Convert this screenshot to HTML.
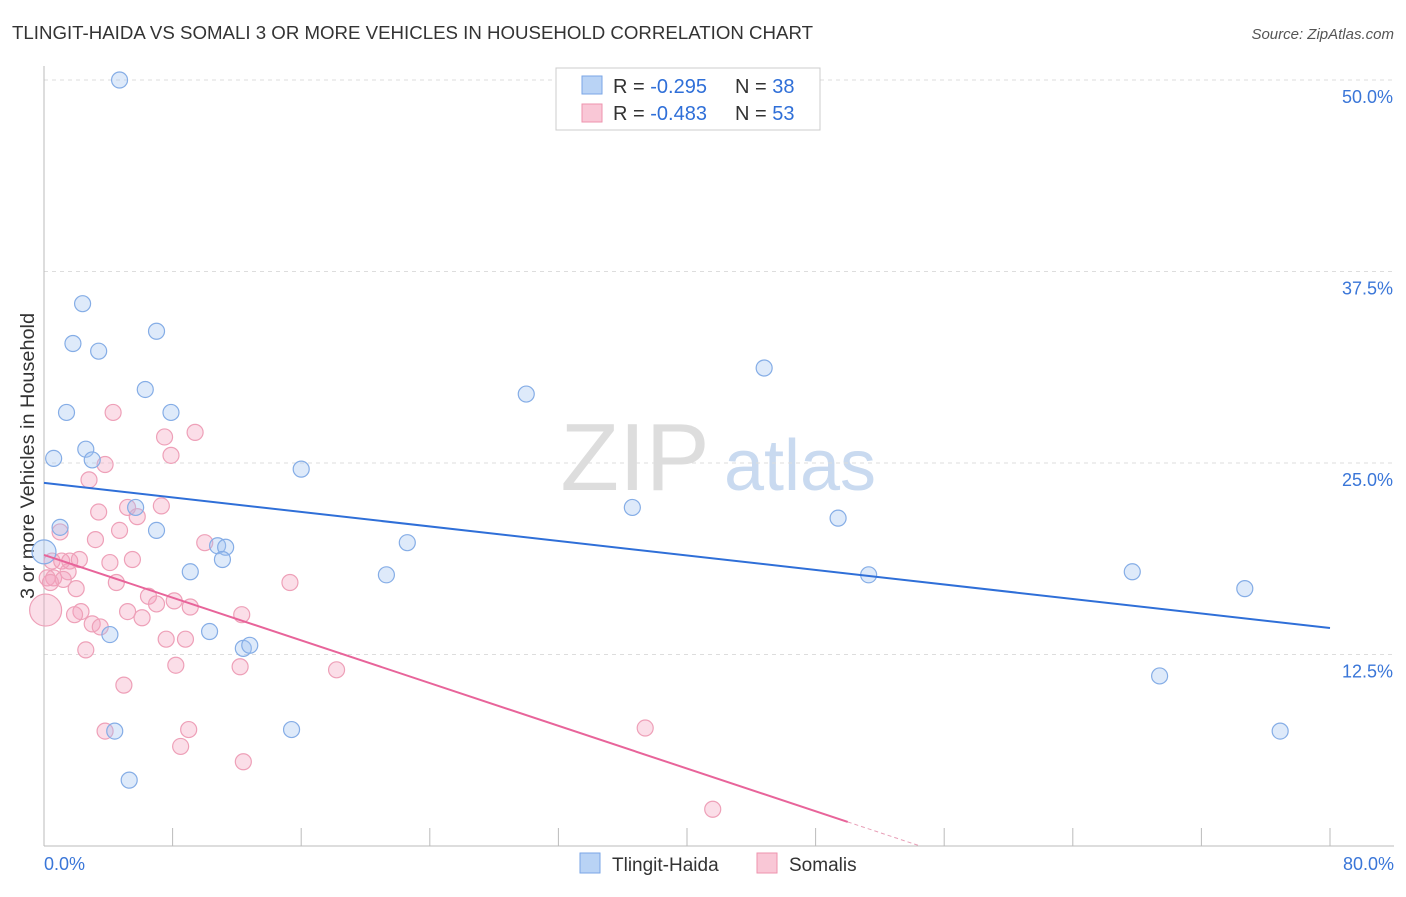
<!DOCTYPE html>
<html><head><meta charset="utf-8"><style>
body{margin:0;background:#fff;font-family:"Liberation Sans",sans-serif;}
svg text{font-family:"Liberation Sans",sans-serif;}
</style></head><body>
<svg id="c" width="1406" height="892">
<text x="12" y="39" font-size="18" fill="#333" textLength="801" lengthAdjust="spacingAndGlyphs">TLINGIT-HAIDA VS SOMALI 3 OR MORE VEHICLES IN HOUSEHOLD CORRELATION CHART</text>
<text x="1394" y="39" font-size="15" fill="#555" text-anchor="end" font-style="italic">Source: ZipAtlas.com</text>
<text x="34" y="456" font-size="19" fill="#333" text-anchor="middle" textLength="286" lengthAdjust="spacingAndGlyphs" transform="rotate(-90 34 456)">3 or more Vehicles in Household</text>
<g><text x="635" y="490" font-size="96" fill="#ddd" text-anchor="middle" font-family="Liberation Serif">ZIP</text><text x="800" y="490" font-size="72" fill="#c9daf0" text-anchor="middle">atlas</text></g>
<g id="grid"></g><g id="axes"></g><g id="pts"></g><g id="lines"></g>
<g>
<rect x="556" y="68" width="264" height="62" fill="#fff" stroke="#ccc"/>
<rect x="582" y="76" width="20" height="18" fill="#b9d3f5" stroke="#7aa6e6"/>
<rect x="582" y="104" width="20" height="18" fill="#f9c7d6" stroke="#ee93ae"/>
<text x="613" y="93" font-size="20" fill="#333">R = <tspan fill="#2f6fd8">-0.295</tspan></text>
<text x="735" y="93" font-size="20" fill="#333">N = <tspan fill="#2f6fd8">38</tspan></text>
<text x="613" y="120" font-size="20" fill="#333">R = <tspan fill="#2f6fd8">-0.483</tspan></text>
<text x="735" y="120" font-size="20" fill="#333">N = <tspan fill="#2f6fd8">53</tspan></text>
</g>
<g>
<rect x="580" y="853" width="20" height="20" fill="#b9d3f5" stroke="#7aa6e6"/><text x="612" y="871" font-size="19" fill="#333">Tlingit-Haida</text>
<rect x="757" y="853" width="20" height="20" fill="#f9c7d6" stroke="#ee93ae"/><text x="789" y="871" font-size="19" fill="#333">Somalis</text>
</g>
</svg>
<script>
const yTicks=[12.5,25,37.5,50];
const yTickLabels=["12.5%","25.0%","37.5%","50.0%"];
const xTickLabels=["0.0%","80.0%"];
const blueX=[4.7,2.4,1.8,3.4,7.0,1.4,6.3,7.9,0.6,2.6,3.0,16.0,30.0,44.8,1.0,5.7,7.0,9.1,10.8,11.3,11.1,22.6,21.3,36.6,49.4,51.3,67.7,74.7,4.1,10.3,12.4,12.8,4.4,15.4,5.3,69.4,76.9,0.0];
const blueY=[50,35.4,32.8,32.3,33.6,28.3,29.8,28.3,25.3,25.9,25.2,24.6,29.5,31.2,20.8,22.1,20.6,17.9,19.6,19.5,18.7,19.8,17.7,22.1,21.4,17.7,17.9,16.8,13.8,14.0,12.9,13.1,7.5,7.6,4.3,11.1,7.5,19.2];
const pinkX=[4.3,9.4,7.5,7.9,3.8,2.8,5.2,7.3,5.8,3.4,1.0,4.7,3.2,10.0,0.5,1.1,1.6,2.2,1.5,4.1,5.5,0.6,1.2,4.5,15.3,6.5,2.0,2.3,1.9,7.0,8.1,9.1,5.2,6.1,12.3,3.0,3.5,7.6,8.8,2.6,8.2,12.2,18.2,4.97,3.8,9.0,37.4,8.5,12.4,41.6,0.1,0.2,0.4];
const pinkY=[28.3,27.0,26.7,25.5,24.9,23.9,22.1,22.2,21.5,21.8,20.5,20.6,20.0,19.8,18.6,18.6,18.6,18.7,17.9,18.5,18.7,17.5,17.4,17.2,17.2,16.3,16.8,15.3,15.1,15.8,16.0,15.6,15.3,14.9,15.1,14.5,14.3,13.5,13.5,12.8,11.8,11.7,11.5,10.5,7.5,7.6,7.7,6.5,5.5,2.4,15.4,17.5,17.2];
const blueLineX=[0,80], blueLineY=[23.7,14.23];
const pinkLineX=[0,50], pinkLineY=[19.0,1.57];
const X=v=>44+v*16.075, Y=v=>846-v*15.32;
const NS="http://www.w3.org/2000/svg";
function mk(t,a,p){const e=document.createElementNS(NS,t);for(const k in a)e.setAttribute(k,a[k]);p.appendChild(e);return e;}
const grid=document.getElementById('grid'),axes=document.getElementById('axes'),pts=document.getElementById('pts'),lines=document.getElementById('lines');
yTicks.forEach((t,i)=>{
 const l=mk('line',{x1:44,x2:1394,y1:Y(t),y2:Y(t),stroke:'#ddd','stroke-dasharray':'4 4'},grid);
 
 
 const tx=mk('text',{x:1393,y:Y(t)+23,'font-size':18,fill:'#3a76d8','text-anchor':'end'},axes);
 tx.textContent=yTickLabels[i];
 
 
});
const ya=mk('line',{x1:44,x2:44,y1:66,y2:846,stroke:'#bbb'},axes);


const xa=mk('line',{x1:44,x2:1394,y1:846,y2:846,stroke:'#bbb'},axes);


for(let i=0;i<=10;i++){const tk=mk('line',{x1:X(i*8),x2:X(i*8),y1:828,y2:846,stroke:'#bbb'},axes);
 
 }
[[0,xTickLabels[0],'start',44],[80,xTickLabels[1],'end',1394]].forEach(d=>{const t=mk('text',{x:d[3],y:870,'font-size':18,fill:'#3a76d8','text-anchor':d[2]},axes);t.textContent=d[1];
 
 });
pinkX.forEach((x,i)=>{const c=mk('circle',{cx:X(x),cy:Y(pinkY[i]),r:i==50?16:8,fill:'rgba(244,160,188,0.35)',stroke:'#eea0b8','stroke-width':1.2},pts);
 
 });
blueX.forEach((x,i)=>{const c=mk('circle',{cx:X(x),cy:Y(blueY[i]),r:i==37?12:8,fill:'rgba(160,196,240,0.35)',stroke:'#85ade6','stroke-width':1.2},pts);
 
 });
const bl=mk('line',{x1:X(blueLineX[0]),y1:Y(blueLineY[0]),x2:X(blueLineX[1]),y2:Y(blueLineY[1]),stroke:'#2f6fd8','stroke-width':2},lines);


const pl=mk('line',{x1:X(pinkLineX[0]),y1:Y(pinkLineY[0]),x2:X(pinkLineX[1]),y2:Y(pinkLineY[1]),stroke:'#e8649a','stroke-width':2},lines);


const s=(pinkLineY[1]-pinkLineY[0])/(pinkLineX[1]-pinkLineX[0]);const xe=-pinkLineY[0]/s;
const pd=mk('line',{x1:X(pinkLineX[1]),y1:Y(pinkLineY[1]),x2:X(xe),y2:Y(0),stroke:'#e8a0b8','stroke-width':1,'stroke-dasharray':'4 3'},lines);


</script>
</body></html>
